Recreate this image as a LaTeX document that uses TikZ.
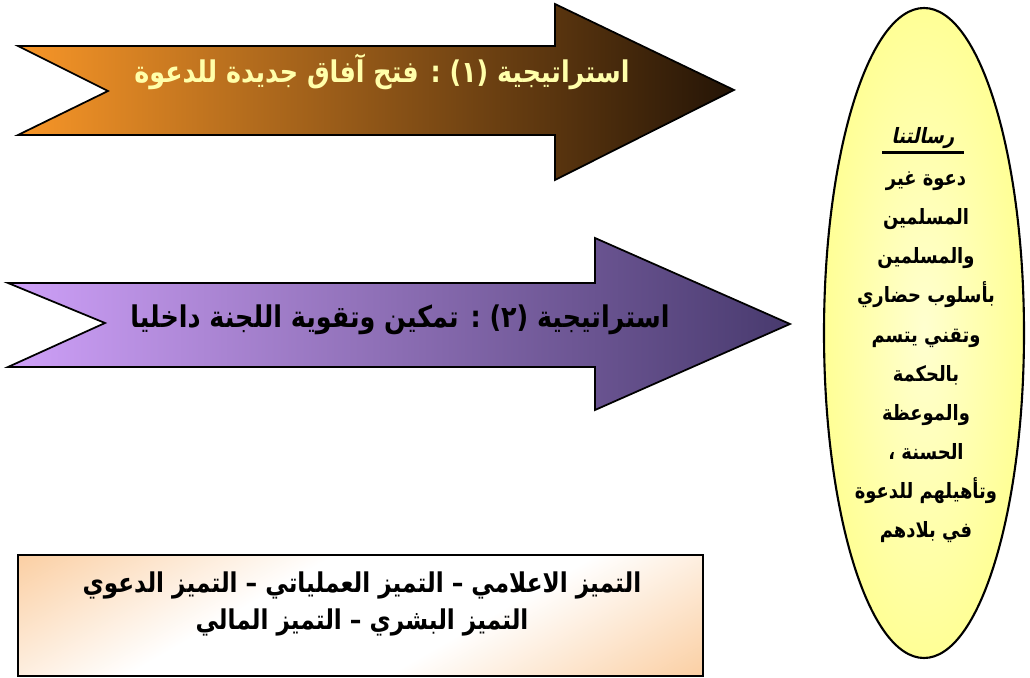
\documentclass[tikz,border=0pt]{standalone}
\usepackage{fontspec}
\usepackage{tikz}
\usetikzlibrary{positioning}
\TeXXeTstate=1
\newfontfamily\arabicfont[Script=Arabic, FakeStretch=0.85]{DejaVu Sans}
\newfontfamily\arabicslant[Script=Arabic, FakeStretch=0.85, FakeSlant=0.2]{DejaVu Sans}

\definecolor{orangeleft}{RGB}{248,150,40}
\definecolor{orangemid}{RGB}{200,112,32}
\definecolor{orangeright}{RGB}{36,20,6}
\definecolor{violetleft}{RGB}{206,160,248}
\definecolor{violetmid}{RGB}{140,105,200}
\definecolor{violetright}{RGB}{72,58,110}
\definecolor{paleyellow}{RGB}{255,255,170}
\definecolor{lemon}{RGB}{255,255,150}
\definecolor{peach}{RGB}{248,176,104}

\pgfdeclarehorizontalshading{peachband}{100bp}{color(0bp)=(peach); color(40bp)=(white); color(60bp)=(white); color(100bp)=(peach)}

\begin{document}
\begin{tikzpicture}[x=0.2mm,y=-0.2mm]
        % Setup the styles
        \tikzset{arrow style/.style={draw=black, line width=1pt},
                 big label/.style={font=\arabicfont\bfseries\fontsize{17}{21}\selectfont},
                 box label/.style={font=\arabicfont\bfseries\fontsize{15.5}{21.5}\selectfont,
                                   align=center},
                 small label/.style={font=\arabicfont\bfseries\fontsize{12}{22.2}\selectfont,
                                     align=center}}
        \useasboundingbox (0,0) rectangle (1030,678);

        % Draw the arrows
        \draw[arrow style, left color=orangeleft, middle color=orangemid, right color=orangeright]
            (18,46) -- (555,46) -- (555,4) -- (734,90) -- (555,180) -- (555,135)
            -- (18,135) -- (108,91) -- cycle;
        \draw[arrow style, left color=violetleft, middle color=violetmid, right color=violetright]
            (8,283) -- (595,283) -- (595,238) -- (790,324) -- (595,410) -- (595,367)
            -- (8,367) -- (105,323) -- cycle;

        % Draw the mission and the box
        \draw[line width=1.2pt, inner color=white!55!lemon, outer color=lemon]
            (924,333) ellipse [x radius=100, y radius=325];
        \draw[line width=1pt, shading=peachband, shading angle=120]
            (18,555) rectangle (703,676);

        % Put the texts
        \node[big label, text=paleyellow] at (382,72) (first)
            {\beginR استراتيجية (١) : فتح آفاق جديدة للدعوة\endR};
        \node[big label] at (400,320) (second)
            {\beginR استراتيجية (٢) : تمكين وتقوية اللجنة داخليا\endR};
        \node[small label, font=\arabicslant\bfseries\fontsize{12}{22.2}\selectfont, inner sep=2pt]
            at (923,138) (title) {\beginR رسالتنا\endR};
        \draw[line width=1.3pt] ([xshift=-3]title.south west) -- ([xshift=3]title.south east);
        \node[small label, anchor=north] at (926,166) (mission)
            {\beginR دعوة غير\endR\\
             \beginR المسلمين\endR\\
             \beginR والمسلمين\endR\\
             \beginR بأسلوب حضاري\endR\\
             \beginR وتقني يتسم\endR\\
             \beginR بالحكمة\endR\\
             \beginR والموعظة\endR\\
             \beginR الحسنة ،\endR\\
             \beginR وتأهيلهم للدعوة\endR\\
             \beginR في بلادهم\endR};
        \node[box label] at (362,604) (fields)
            {\beginR التميز الاعلامي – التميز العملياتي – التميز الدعوي\endR\\
             \beginR التميز البشري – التميز المالي\endR};
\end{tikzpicture}
\end{document}
